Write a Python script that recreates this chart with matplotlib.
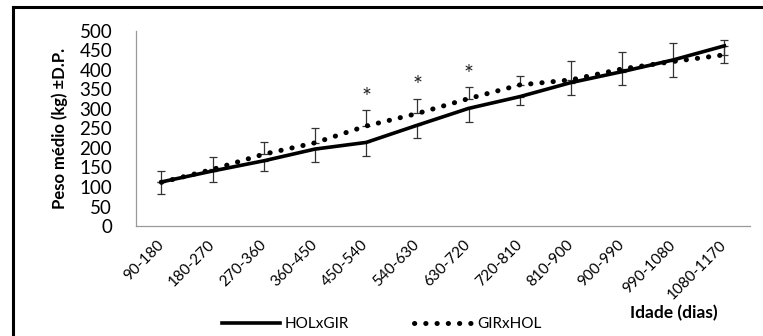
import matplotlib.pyplot as plt
from matplotlib.lines import Line2D

# age classes (days)
idades = ["90-180", "180-270", "270-360", "360-450", "450-540", "540-630",
          "630-720", "720-810", "810-900", "900-990", "990-1080", "1080-1170"]

# mean weight (kg)
holxgir = [113, 141, 167, 197, 214, 258, 301, 331, 367, 395, 425, 461]
girxhol = [112, 145, 184, 213, 256, 288, 326, 361, 374, 402, 421, 438]

# standard deviations (minus bars on HOLxGIR, plus bars on GIRxHOL)
dp_holxgir = [31, 27, 25, 32, 34, 32, 34, 22, 33, 34, 43, 43]
dp_girxhol = [30, 31, 30, 38, 40, 38, 29, 24, 47, 42, 48, 37]

# significant differences
signif = ["450-540", "540-630", "630-720"]

plt.rcParams['font.family'] = ['Lato', 'DejaVu Sans']

fig = plt.figure(figsize=(7.63, 3.36), dpi=100)
ax = fig.add_axes([0.178, 0.327, 0.805, 0.582])

x = list(range(len(idades)))

ax.errorbar(x, holxgir, yerr=[dp_holxgir, [0] * len(x)], fmt="none",
            ecolor="#333333", elinewidth=0.9, capsize=3.2, capthick=0.9, zorder=2)
ax.errorbar(x, girxhol, yerr=[[0] * len(x), dp_girxhol], fmt="none",
            ecolor="#333333", elinewidth=0.9, capsize=3.2, capthick=0.9, zorder=2)

ax.plot(x, holxgir, color="black", lw=2.6, label="HOLxGIR", zorder=3)
ax.plot(x, girxhol, color="black", lw=3.6, linestyle=(0, (0.05, 2.2)),
        dash_capstyle="round", label="GIRxHOL", zorder=3)

for s in signif:
    i = idades.index(s)
    ax.text(i, girxhol[i] + dp_girxhol[i] + 6, "*", ha="center", va="bottom",
            fontsize=17, color="#222222")

ax.set_xlim(-0.5, len(idades) - 0.5)
ax.set_ylim(0, 500)
ax.set_yticks(range(0, 501, 50))
ax.set_xticks(x)
ax.set_xticklabels(idades, rotation=45, ha="right", va="center",
                   rotation_mode="anchor", fontsize=11)
ax.tick_params(axis="y", length=0, pad=17, labelsize=13.5)
ax.tick_params(axis="x", length=0, pad=12)

for side in ["top", "right"]:
    ax.spines[side].set_visible(False)
for side in ["left", "bottom"]:
    ax.spines[side].set_color("#999999")
    ax.spines[side].set_linewidth(0.9)

ax.set_ylabel("Peso médio (kg) ±D.P.", fontsize=12, fontweight="bold", labelpad=8)

fig.text(0.826, 0.068, "Idade (dias)", fontsize=12.5, fontweight="bold", ha="left", va="center")

leg = fig.legend(loc="center", bbox_to_anchor=(0.5, 0.036), ncol=2, frameon=False,
                 fontsize=11, handlelength=3.8, columnspacing=4.3, handletextpad=0.3,
                 borderpad=0, borderaxespad=0)

# frame pieces visible in the crop
fig.add_artist(Line2D([0.017, 1.0], [0.979, 0.979], color="black", lw=2.2))
fig.add_artist(Line2D([0.017, 0.017], [0.0, 0.979], color="black", lw=2.2))

fig.savefig("out.png", dpi=100)
